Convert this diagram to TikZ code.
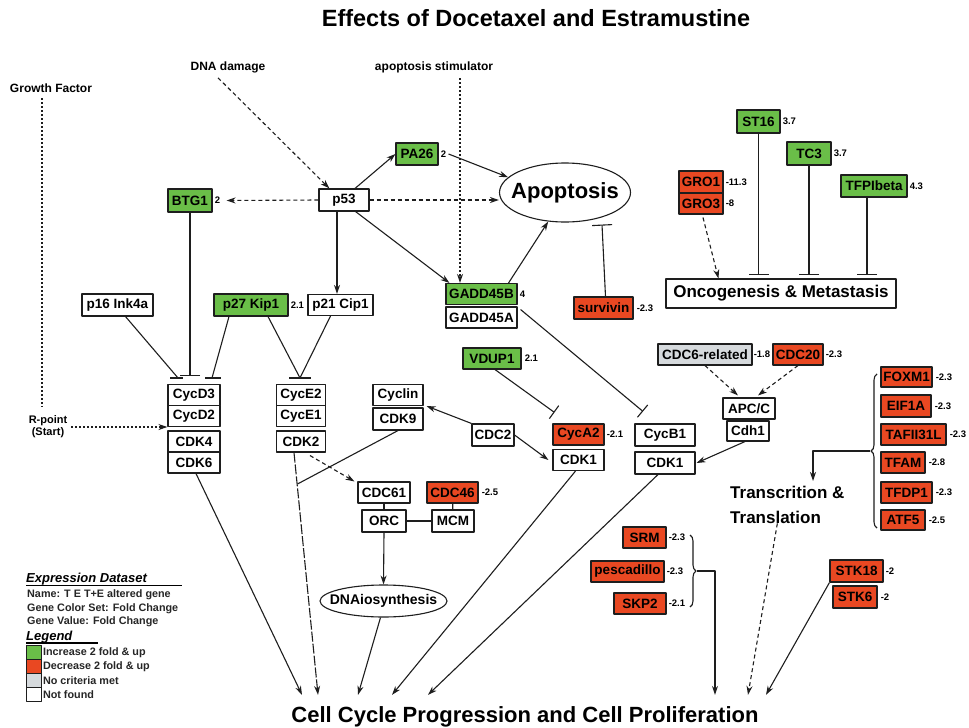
\documentclass[tikz,border=0pt]{standalone}
\usepackage{fontspec}
\setmainfont{Liberation Sans}
\usetikzlibrary{arrows.meta,shapes.geometric,decorations.pathreplacing}
\definecolor{gG}{RGB}{106,190,72}
\definecolor{rR}{RGB}{233,72,34}
\definecolor{gY}{RGB}{214,218,221}
\definecolor{lnc}{RGB}{30,30,30}
\newcommand\bxf{\fontsize{13.5}{15}\selectfont\bfseries}
\newcommand\vlf{\fontsize{9.5}{10}\selectfont\bfseries}
\newcommand\lgf{\fontsize{10.8}{12}\selectfont\bfseries}
\tikzset{
 bx/.style={draw=lnc, line width=1.1pt, font=\bxf, inner sep=0pt, minimum height=21pt, fill=white},
 gn/.style={bx, fill=gG},
 rd/.style={bx, fill=rR},
 gy/.style={bx, fill=gY},
 vl/.style={font=\vlf, inner sep=0pt, anchor=west},
 ln/.style={line width=1.1pt, draw=lnc},
 ar/.style={ln, -{Stealth[length=9pt,width=6pt]}},
 dar/.style={ar, dash pattern=on 4pt off 3pt},
 dotar/.style={ar, dash pattern=on 2pt off 2pt},
 inh/.style={ln, -{Bar[width=20pt]}},
 lbl/.style={font=\fontsize{12}{14}\selectfont\bfseries, inner sep=1pt},
 lgt/.style={font=\lgf, inner sep=0pt, anchor=base west, text=black!85},
 sw/.style={draw=lnc, line width=0.8pt, minimum width=15pt, minimum height=14pt, inner sep=0pt, anchor=north west},
}
\begin{document}
\begin{tikzpicture}[x=1pt,y=-1pt,line join=round]
\useasboundingbox (0,0) rectangle (969,728);
\fill[white] (0,0) rectangle (969,728);

% title and free labels
\node[font=\fontsize{23.5}{26}\selectfont\bfseries] (title) at (536,18) {Effects of Docetaxel and Estramustine};
\node[lbl] (dna) at (228,67) {DNA damage};
\node[lbl] (stim) at (434,67) {apoptosis stimulator};
\node[lbl] (gf) at (51,88) {Growth Factor};
\node[align=center, font=\fontsize{11}{12}\selectfont\bfseries, inner sep=1pt] (rp) at (48,427) {R-point\\(Start)};

% p53 region
\node[bx, minimum width=50pt, minimum height=22pt] (p53) at (344,200) {p53};
\node[gn, minimum width=44pt, minimum height=23pt] (btg1) at (190,200.5) {BTG1};
\node[vl] (btg1v) at ([xshift=2pt]btg1.east) {2};
\node[gn, minimum width=42pt, minimum height=22pt] (pa26) at (417,154) {PA26};
\node[vl] (pa26v) at ([xshift=2pt]pa26.east) {2};
\node[ellipse, draw=lnc, line width=1.1pt, minimum width=131pt, minimum height=59pt, inner sep=0pt] (apopE) at (565,192.5) {};
\node[font=\fontsize{22}{24}\selectfont\bfseries, inner sep=0pt] (apopT) at (565,192.5) {Apoptosis};
\node[gn, minimum width=71pt] (g45b) at (481.5,294) {GADD45B};
\node[vl] (g45bv) at ([xshift=2pt]g45b.east) {4};
\node[bx, minimum width=71pt] (g45a) at (481.5,317.5) {GADD45A};
\node[rd, minimum width=59pt, minimum height=22pt] (surv) at (603.5,308) {survivin};
\node[vl] (survv) at ([xshift=3pt]surv.east) {-2.3};

% CDK inhibitors
\node[bx, minimum width=71pt, minimum height=22pt] (p16) at (117.5,305) {p16 Ink4a};
\node[gn, minimum width=74pt, minimum height=22pt] (p27) at (251,305) {p27 Kip1};
\node[vl] (p27v) at ([xshift=2pt]p27.east) {2.1};
\node[bx, minimum width=65pt] (p21) at (340.5,305) {p21 Cip1};

% cyclin/CDK stacks
\node[bx, minimum width=52pt] (cycd3) at (194,395) {CycD3};
\node[bx, minimum width=52pt] (cycd2) at (194,416) {CycD2};
\node[bx, minimum width=52pt] (cdk4) at (194,441.5) {CDK4};
\node[bx, minimum width=52pt] (cdk6) at (194,462.5) {CDK6};
\node[bx, minimum width=49pt] (cyce2) at (301,395) {CycE2};
\node[bx, minimum width=49pt] (cyce1) at (301,416) {CycE1};
\node[bx, minimum width=49pt] (cdk2) at (301,441.5) {CDK2};
\node[bx, minimum width=50pt] (cyclin) at (398,395) {Cyclin};
\node[bx, minimum width=50pt, minimum height=22pt] (cdk9) at (398,419) {CDK9};
\node[bx, minimum width=42pt, minimum height=22pt] (cdc2) at (493,435) {CDC2};
\node[gn, minimum width=58pt] (vdup1) at (492,358.5) {VDUP1};
\node[vl] (vdup1v) at ([xshift=3pt]vdup1.east) {2.1};
\node[rd, minimum width=51pt] (cyca2) at (578.5,434.5) {CycA2};
\node[vl] (cyca2v) at ([xshift=2pt]cyca2.east) {-2.1};
\node[bx, minimum width=51pt] (cdk1a) at (578.5,460) {CDK1};
\node[bx, minimum width=60pt, minimum height=22pt] (cycb1) at (665,435) {CycB1};
\node[bx, minimum width=60pt, minimum height=22pt] (cdk1b) at (665,463) {CDK1};
\node[gy, minimum width=94pt] (cdc6r) at (705,354.5) {CDC6-related};
\node[vl] (cdc6rv) at ([xshift=1pt]cdc6r.east) {-1.8};
\node[rd, minimum width=50pt] (cdc20) at (798,354.5) {CDC20};
\node[vl] (cdc20v) at ([xshift=2pt]cdc20.east) {-2.3};
\node[bx, minimum width=52pt] (apcc) at (749,408.5) {APC/C};
\node[bx, minimum width=42pt, minimum height=20pt] (cdh1) at (748,431) {Cdh1};

% oncogenesis group
\node[gn, minimum width=43pt, minimum height=23pt] (st16) at (758.5,121.5) {ST16};
\node[vl] (st16v) at ([xshift=2pt]st16.east) {3.7};
\node[gn, minimum width=44pt, minimum height=23pt] (tc3) at (809,153.5) {TC3};
\node[vl] (tc3v) at ([xshift=2pt]tc3.east) {3.7};
\node[gn, minimum width=66pt, minimum height=22pt] (tfpi) at (874,186) {TFPIbeta};
\node[vl] (tfpiv) at ([xshift=2pt]tfpi.east) {4.3};
\node[rd, minimum width=44pt, minimum height=22pt] (gro1) at (701,182) {GRO1};
\node[vl] (gro1v) at ([xshift=2pt]gro1.east) {-11.3};
\node[rd, minimum width=44pt] (gro3) at (701,203.5) {GRO3};
\node[vl] (gro3v) at ([xshift=2pt]gro3.east) {-8};
\node[bx, minimum width=230pt, minimum height=29pt, font=\fontsize{17}{19}\selectfont\bfseries] (onc) at (781,293.5) {Oncogenesis \& Metastasis};

% replication
\node[bx, minimum width=52pt] (cdc61) at (384,492.5) {CDC61};
\node[rd, minimum width=51pt] (cdc46) at (452.5,492.5) {CDC46};
\node[vl] (cdc46v) at ([xshift=3pt]cdc46.east) {-2.5};
\node[bx, minimum width=44pt, minimum height=22pt] (orc) at (384,521) {ORC};
\node[bx, minimum width=42pt, minimum height=22pt] (mcm) at (453,521) {MCM};
\node[ellipse, draw=lnc, line width=1.1pt, minimum width=127pt, minimum height=32pt, inner sep=0pt] (dnaioE) at (383.5,601) {};
\node[font=\fontsize{14}{16}\selectfont\bfseries, inner sep=0pt] (dnaioT) at (383.5,601) {DNAiosynthesis};

% transcription list
\node[rd, minimum width=51pt, minimum height=20pt] (foxm1) at (906.5,377) {FOXM1};
\node[vl] (foxm1v) at ([xshift=3pt]foxm1.east) {-2.3};
\node[rd, minimum width=50pt, minimum height=22pt] (eif1a) at (906,406) {EIF1A};
\node[vl] (eif1av) at ([xshift=3pt]eif1a.east) {-2.3};
\node[rd, minimum width=65pt] (taf) at (913.5,434.5) {TAFII31L};
\node[vl] (tafv) at ([xshift=3pt]taf.east) {-2.3};
\node[rd, minimum width=44pt] (tfam) at (903,462.5) {TFAM};
\node[vl] (tfamv) at ([xshift=3pt]tfam.east) {-2.8};
\node[rd, minimum width=51pt] (tfdp1) at (906.5,492.5) {TFDP1};
\node[vl] (tfdp1v) at ([xshift=3pt]tfdp1.east) {-2.3};
\node[rd, minimum width=44pt, minimum height=20pt] (atf5) at (903,520) {ATF5};
\node[vl] (atf5v) at ([xshift=3pt]atf5.east) {-2.5};
\node[anchor=north west, align=left, font=\fontsize{17}{25}\selectfont\bfseries, inner sep=0pt] (trans) at (730,485.5) {Transcrition \&\\Translation};

% lower right
\node[rd, minimum width=43pt] (srm) at (644.5,537.5) {SRM};
\node[vl] (srmv) at ([xshift=2pt]srm.east) {-2.3};
\node[rd, minimum width=73pt] (pesc) at (627.5,571.5) {pescadillo};
\node[vl] (pescv) at ([xshift=2pt]pesc.east) {-2.3};
\node[rd, minimum width=52pt] (skp2) at (640,603.5) {SKP2};
\node[vl] (skp2v) at ([xshift=2pt]skp2.east) {-2.1};
\node[rd, minimum width=53pt, minimum height=22pt] (stk18) at (856.5,571) {STK18};
\node[vl] (stk18v) at ([xshift=2pt]stk18.east) {-2};
\node[rd, minimum width=44pt, minimum height=22pt] (stk6) at (855,597) {STK6};
\node[vl] (stk6v) at ([xshift=3pt]stk6.east) {-2};

\node[anchor=base, font=\fontsize{22}{24}\selectfont\bfseries, inner sep=0pt] (cell) at (525,722) {Cell Cycle Progression and Cell Proliferation};

% ---------- connectors ----------
\coordinate (stimtop) at (460,78);
\coordinate (gftop) at (42,98);
\coordinate (gfbot) at (42,407);
\draw[ln, dash pattern=on 2pt off 2pt] (gftop) -- (gfbot);
\draw[dar] ([xshift=-10pt,yshift=-4pt]dna.south) -- ([xshift=11pt]p53.north west);
\draw[dotar] (stimtop) -- (stimtop |- g45b.north);
\draw[dotar] ([xshift=3pt]rp.east) -- (rp.east -| cycd2.west);
\draw[dar] (p53.west) -- ([xshift=14pt]btg1.east);
\draw[dar] (p53.east) -- (p53.east -| apopE.west);
\draw[ar] ([xshift=11pt]p53.north) -- (pa26.west);
\draw[ar] ([xshift=10pt]pa26.east) -- (apopE.165);
\draw[ar] ([xshift=-14pt]p53.south east) -- ([xshift=4pt]g45b.north west);
\draw[ar] ([xshift=-9pt]g45b.north east) -- (apopE.240);
\draw[ar] ([xshift=-7pt]p53.south) -- ([xshift=-3.5pt]p21.north);
\draw[inh, -{Bar[width=20pt]}] ([xshift=2pt]surv.north) -- ([xshift=37pt,yshift=-2pt]apopE.south);

% inhibition onto CycD / CycE
\draw[inh, shorten >=7.5pt] (btg1.south) -- (btg1.south |- cycd3.north);
\draw[ln] ([xshift=8pt]p16.south) -- ([xshift=-16pt,yshift=6pt]cycd3.north);
\draw[ln] ([xshift=-24pt,yshift=6pt]cycd3.north) -- ([xshift=-11pt,yshift=6pt]cycd3.north);
\draw[ln] ([xshift=-22pt]p27.south) -- ([xshift=18pt,yshift=6pt]cycd3.north);
\draw[ln] ([xshift=11pt,yshift=6pt]cycd3.north) -- ([xshift=27pt,yshift=6pt]cycd3.north);
\draw[ln] ([xshift=17pt]p27.south) -- ([xshift=-1pt,yshift=6pt]cyce2.north);
\draw[ln] ([xshift=-10pt]p21.south) -- ([xshift=-1pt,yshift=6pt]cyce2.north);
\draw[ln] ([xshift=-12pt,yshift=6pt]cyce2.north) -- ([xshift=10pt,yshift=6pt]cyce2.north);

% to cell cycle
\draw[ar] ([xshift=2pt]cdk6.south) -- ([xshift=-223pt,yshift=11pt]cell.north);
\draw[ar, dash pattern=on 10pt off 2pt] ([xshift=-7pt]cdk2.south) -- ([xshift=-207pt,yshift=11pt]cell.north);
\coordinate (jn) at (297.5,484);
\draw[ln] (cdk9.south) -- (jn);
\draw[dar] ([xshift=9pt,yshift=-3pt]cdk2.south) -- ([xshift=-3pt]cdc61.north west);
\draw[ln] (cdc61) -- (orc);
\draw[ln] (cdc46) -- (mcm);
\draw[ln] (orc) -- (mcm);
\draw[ar] (orc.south) -- (dnaioE.north);
\draw[ar] ([xshift=-3pt]dnaioE.south) -- ([xshift=-167pt,yshift=11pt]cell.north);
\draw[ar] (cdc2.north west) -- ([xshift=3pt]cyclin.south east);
\draw[ar] (cdc2.east) -- ([xshift=-4pt]cdk1a.west);
\draw[inh, -{Bar[width=16pt]}] ([xshift=3pt]vdup1.south) -- ([xshift=-24pt,yshift=11pt]cyca2.north);
\draw[inh, -{Bar[width=16pt]}] ([xshift=3pt,yshift=8pt]g45a.east) -- ([xshift=-22pt,yshift=12pt]cycb1.north);
\draw[ar] ([xshift=-3pt]cdk1a.south) -- ([xshift=-133pt,yshift=11pt]cell.north);
\draw[ar] ([xshift=-7pt]cdk1b.south) -- ([xshift=-97pt,yshift=11pt]cell.north);
\draw[dar] (cdc6r.south) -- ([xshift=-11pt,yshift=2pt]apcc.north);
\draw[dar] (cdc20.south) -- ([xshift=9pt,yshift=2pt]apcc.north);
\draw[ar] ([xshift=-3pt]cdh1.south) -- ([xshift=1pt]cdk1b.east);

% oncogenesis
\draw[dar] ([xshift=2pt,yshift=-3pt]gro3.south) -- ([xshift=53pt]onc.north west);
\draw[inh, shorten >=3pt] (st16.south) -- (st16.south |- onc.north);
\draw[inh, shorten >=3pt] (tc3.south) -- (tc3.south |- onc.north);
\draw[inh] ([xshift=-7pt]tfpi.south) -- ([xshift=86pt,yshift=3pt]onc.north);

% braces
\draw[ln, decorate, decoration={brace, amplitude=6pt}] (877,528) -- (877,374);
\coordinate (brT) at (870,451);
\coordinate (trTop) at (813,481);
\draw[ar] (brT) -| (trTop);
\draw[dar] ([xshift=-10pt]trans.south) -- ([xshift=223pt,yshift=11pt]cell.north);
\draw[ln, decorate, decoration={brace, amplitude=6pt}] (690,535) -- (690,607);
\coordinate (brL) at (697,571);
\draw[ar] (brL) -| ([xshift=190pt,yshift=11pt]cell.north);
\draw[ar] (stk18.south west) -- ([xshift=241pt,yshift=11pt]cell.north);

% legend
\node[anchor=base west, font=\fontsize{13}{15}\selectfont\bfseries\itshape, inner sep=0pt] (lgds) at (26,582) {Expression Dataset};
\draw[line width=1.1pt] (26,585.5) -- (182,585.5);
\node[lgt] (lg1) at (27,597) {Name: T E T+E altered gene};
\node[lgt] (lg2) at (27,611) {Gene Color Set: Fold Change};
\node[lgt] (lg3) at (27,624) {Gene Value: Fold Change};
\node[anchor=base west, font=\fontsize{13}{15}\selectfont\bfseries\itshape, inner sep=0pt] (lgl) at (26,640) {Legend};
\draw[line width=1.1pt] (26,643) -- (98,643);
\node[sw, fill=gG] (sw1) at (26,645) {};
\node[sw, fill=rR] (sw2) at (26,659) {};
\node[sw, fill=gY] (sw3) at (26,673) {};
\node[sw, fill=white] (sw4) at (26,687) {};
\node[lgt, anchor=west] (sl1) at ([xshift=1pt]sw1.east) {Increase 2 fold \& up};
\node[lgt, anchor=west] (sl2) at ([xshift=1pt]sw2.east) {Decrease 2 fold \& up};
\node[lgt, anchor=west] (sl3) at ([xshift=1pt]sw3.east) {No criteria met};
\node[lgt, anchor=west] (sl4) at ([xshift=1pt]sw4.east) {Not found};
\end{tikzpicture}
\end{document}
